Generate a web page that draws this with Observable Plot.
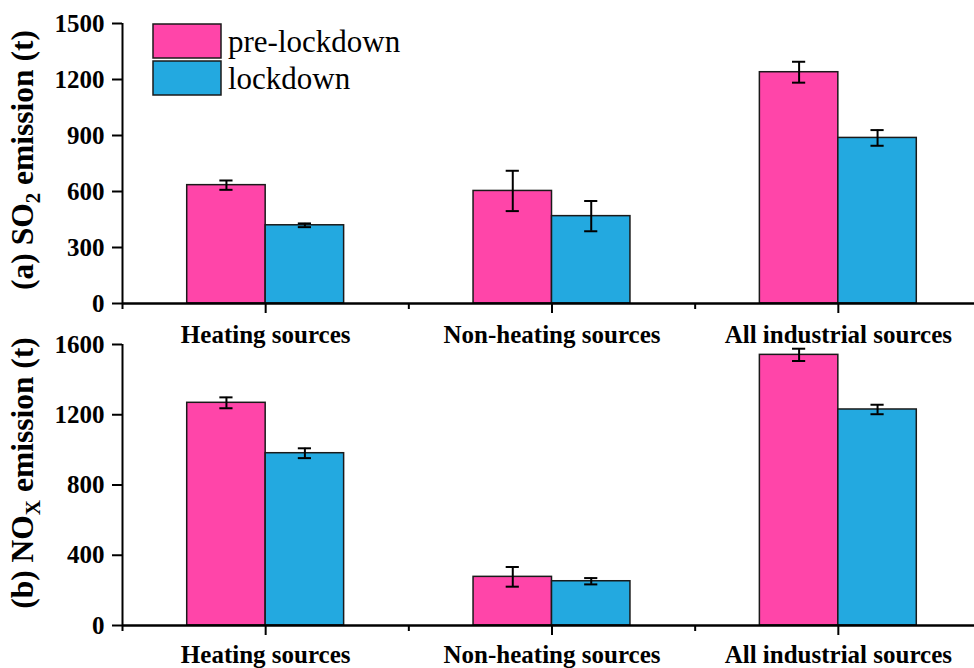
<!DOCTYPE html>
<html><head><meta charset="utf-8">
<script src="https://cdn.jsdelivr.net/npm/d3@7"></script>
<script src="https://cdn.jsdelivr.net/npm/@observablehq/plot@0.6"></script>
<style>
body{margin:0;background:#fff;overflow:hidden;}
#wrap{position:relative;width:974px;height:668px;overflow:hidden;}
#wrap svg{position:absolute;left:0;}
</style></head><body><div id="wrap"></div>
<script>
const categories = ["Heating sources", "Non-heating sources", "All industrial sources"];
const seriesNames = ["pre-lockdown", "lockdown"];
const so2Pre = [634, 603, 1239];
const so2PreErr = [25, 108, 56];
const so2Lock = [419, 468, 887];
const so2LockErr = [10, 81, 42];
const noxPre = [1268, 277, 1541];
const noxPreErr = [31, 56, 35];
const noxLock = [981, 252, 1230];
const noxLockErr = [28, 18, 27];
const so2Ticks = [0, 300, 600, 900, 1200, 1500];
const noxTicks = [0, 400, 800, 1200, 1600];
const colors = ["#FF45A9", "#23A9E0"];

const BW = 0.274;   // bar width in category units
const CAP = 0.023;  // half cap width
const FONT = "'Liberation Serif', 'Times New Roman', serif";

function rows(pre, preErr, lock, lockErr) {
  const out = [];
  categories.forEach((c, i) => {
    out.push({i, s: 0, series: seriesNames[0], v: pre[i], e: preErr[i]});
    out.push({i, s: 1, series: seriesNames[1], v: lock[i], e: lockErr[i]});
  });
  return out;
}

function panel(data, ticks, topPx, h, mt, mb, pad) {
  const yMax = ticks[ticks.length - 1];
  const cx = d => d.i + (d.s - 0.5) * BW;
  const svg = Plot.plot({
    width: 974, height: h, marginTop: mt, marginBottom: mb, marginLeft: 122, marginRight: 0,
    x: {domain: [-0.5, 2.5], range: [122, 981]},
    y: {domain: [0, yMax]},
    color: {domain: seriesNames, range: colors},
    style: {fontFamily: FONT, background: "transparent", overflow: "visible", color: "#000"},
    marks: [
      Plot.rectY(data, {x1: d => d.i + (d.s - 1) * BW, x2: d => d.i + d.s * BW, y1: 0, y2: "v",
        fill: "series", stroke: "#1a1a1a", strokeWidth: 1.5}),
      Plot.ruleX(data, {x: cx, y1: d => d.v - d.e, y2: d => d.v + d.e, stroke: "#000", strokeWidth: 2}),
      Plot.ruleY(data, {y: d => d.v + d.e, x1: d => cx(d) - CAP, x2: d => cx(d) + CAP, stroke: "#000", strokeWidth: 2}),
      Plot.ruleY(data, {y: d => d.v - d.e, x1: d => cx(d) - CAP, x2: d => cx(d) + CAP, stroke: "#000", strokeWidth: 2}),
      Plot.ruleX([-0.5], {y1: 0, y2: yMax, stroke: "#000", strokeWidth: 2}),
      Plot.ruleY([0], {x1: -0.5, x2: 2.5, stroke: "#000", strokeWidth: 2.5}),
      Plot.axisY({ticks, tickSize: 10, tickPadding: 8, tickFormat: d => String(d), label: null,
        fontSize: 25, fontWeight: "bold", strokeWidth: 2}),
      Plot.axisX({ticks: [0, 1, 2], tickSize: 10, tickPadding: pad, tickFormat: i => categories[i], label: null,
        fontSize: 25, fontWeight: "bold", strokeWidth: 2}),
      Plot.axisX({ticks: [-0.5, 0.5, 1.5, 2.5], tickSize: 6, tickFormat: () => "", label: null, strokeWidth: 2})
    ]
  });
  svg.style.top = topPx + "px";
  document.getElementById("wrap").appendChild(svg);
  return d3.select(svg);
}

function title(sel, cy, pre, sub, post) {
  const t = sel.append("text")
    .attr("transform", `translate(33,${cy}) rotate(-90)`)
    .attr("text-anchor", "middle")
    .style("font-family", FONT).style("font-weight", "bold").style("font-size", "31.5px").attr("fill", "#000");
  t.append("tspan").text(pre);
  t.append("tspan").attr("dy", 7).style("font-size", "21px").text(sub);
  t.append("tspan").attr("dy", -7).text(post);
}

const topPanel = panel(rows(so2Pre, so2PreErr, so2Lock, so2LockErr), so2Ticks, 0, 350, 23, 47, 12);
const botPanel = panel(rows(noxPre, noxPreErr, noxLock, noxLockErr), noxTicks, 318, 350, 26, 43, 10);

title(topPanel, 160, "(a) SO", "2", " emission (t)");
title(botPanel, 155, "(b) NO", "X", " emission (t)");

// legend
const leg = topPanel.append("g").attr("text-anchor", "start");
seriesNames.forEach((name, k) => {
  const y = k === 0 ? 24 : 61;
  leg.append("rect").attr("x", 153).attr("y", y).attr("width", 68).attr("height", 34)
    .attr("fill", colors[k]).attr("stroke", "#1a1a1a").attr("stroke-width", 1.5);
  leg.append("text").attr("x", 228).attr("y", y + 28).attr("text-anchor", "start").text(name)
    .style("font-family", FONT).style("font-size", "31px").attr("fill", "#000");
});
</script></body></html>
